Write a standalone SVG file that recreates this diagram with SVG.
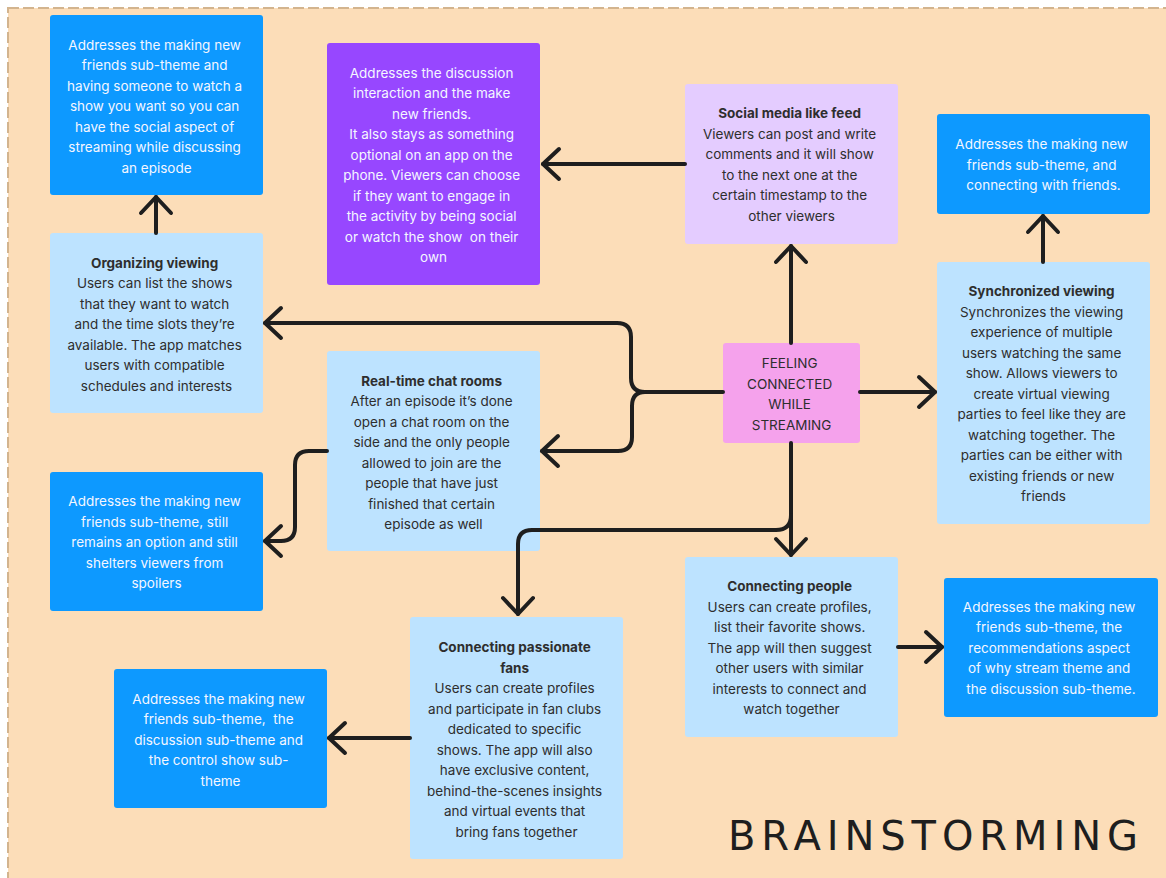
<svg xmlns="http://www.w3.org/2000/svg" width="1166" height="878" viewBox="0 0 1166 878">
<style>
.t{font-family:Inter,"Noto Sans","Liberation Sans",sans-serif;font-size:13.5px;text-anchor:middle}
.w{fill:#F4F6FF}
.d{fill:#2E2E2E}
.b{font-weight:700}
.blue{fill:#0D99FF}
.lb{fill:#BDE3FF}
.c{fill:none;stroke:#1E1E1E;stroke-width:4;stroke-linecap:round;stroke-linejoin:round}
</style>
<defs>
<marker id="arr" viewBox="-22 -20 26 40" refX="0" refY="0" markerWidth="26" markerHeight="40" markerUnits="userSpaceOnUse" orient="auto">
<path d="M-16 -15 L0 0 L-16 15" fill="none" stroke="#1E1E1E" stroke-width="4" stroke-linecap="round" stroke-linejoin="round"/>
</marker>
</defs>
<rect x="0" y="0" width="1166" height="878" fill="#FFFFFF"/>
<rect x="8" y="8" width="1175" height="890" fill="#FCDDB8" stroke="#D3B48E" stroke-width="2" stroke-dasharray="11 4"/>

<g id="n-tl">
<rect class="blue" x="50" y="15" width="213" height="180" rx="3"/>
<text class="t w" x="156.5" y="49.5">
<tspan x="156.5" dy="0">Addresses the making new</tspan>
<tspan x="156.5" dy="20.5">friends sub-theme and</tspan>
<tspan x="156.5" dy="20.5">having someone to watch a</tspan>
<tspan x="156.5" dy="20.5">show you want so you can</tspan>
<tspan x="156.5" dy="20.5">have the social aspect of</tspan>
<tspan x="156.5" dy="20.5">streaming while discussing</tspan>
<tspan x="156.5" dy="20.5">an episode</tspan>
</text>
</g>

<g id="n-purple">
<rect fill="#9747FF" x="327" y="43" width="213" height="242" rx="3"/>
<text class="t w" x="433.5" y="77.5">
<tspan x="433.5" dy="0">Addresses the discussion</tspan>
<tspan x="433.5" dy="20.5">interaction and the make</tspan>
<tspan x="433.5" dy="20.5">new friends.</tspan>
<tspan x="433.5" dy="20.5">It also stays as something</tspan>
<tspan x="433.5" dy="20.5">optional on an app on the</tspan>
<tspan x="433.5" dy="20.5">phone. Viewers can choose</tspan>
<tspan x="433.5" dy="20.5">if they want to engage in</tspan>
<tspan x="433.5" dy="20.5">the activity by being social</tspan>
<tspan x="433.5" dy="20.5" xml:space="preserve">or watch the show  on their</tspan>
<tspan x="433.5" dy="20.5">own</tspan>
</text>
</g>

<g id="n-social">
<rect fill="#E4CCFF" x="685" y="84" width="213" height="160" rx="3"/>
<text class="t d" x="791.5" y="118">
<tspan class="b" x="791.5" dy="0">Social media like feed</tspan>
<tspan x="791.5" dy="20.5">Viewers can post and write</tspan>
<tspan x="791.5" dy="20.5">comments and it will show</tspan>
<tspan x="791.5" dy="20.5">to the next one at the</tspan>
<tspan x="791.5" dy="20.5">certain timestamp to the</tspan>
<tspan x="791.5" dy="20.5">other viewers</tspan>
</text>
</g>

<g id="n-tr">
<rect class="blue" x="937" y="114" width="213" height="100" rx="3"/>
<text class="t w" x="1043.5" y="149">
<tspan x="1043.5" dy="0">Addresses the making new</tspan>
<tspan x="1043.5" dy="20.5">friends sub-theme, and</tspan>
<tspan x="1043.5" dy="20.5">connecting with friends.</tspan>
</text>
</g>

<g id="n-sync">
<rect class="lb" x="937" y="262" width="213" height="262" rx="3"/>
<text class="t d" x="1043.5" y="296">
<tspan class="b" x="1043.5" dy="0">Synchronized viewing</tspan>
<tspan x="1043.5" dy="20.5">Synchronizes the viewing</tspan>
<tspan x="1043.5" dy="20.5">experience of multiple</tspan>
<tspan x="1043.5" dy="20.5">users watching the same</tspan>
<tspan x="1043.5" dy="20.5">show. Allows viewers to</tspan>
<tspan x="1043.5" dy="20.5">create virtual viewing</tspan>
<tspan x="1043.5" dy="20.5">parties to feel like they are</tspan>
<tspan x="1043.5" dy="20.5">watching together. The</tspan>
<tspan x="1043.5" dy="20.5">parties can be either with</tspan>
<tspan x="1043.5" dy="20.5">existing friends or new</tspan>
<tspan x="1043.5" dy="20.5">friends</tspan>
</text>
</g>

<g id="n-organizing">
<rect class="lb" x="50" y="233" width="213" height="180" rx="3"/>
<text class="t d" x="156.5" y="267.5">
<tspan class="b" x="156.5" dy="0">Organizing viewing</tspan>
<tspan x="156.5" dy="20.5">Users can list the shows</tspan>
<tspan x="156.5" dy="20.5">that they want to watch</tspan>
<tspan x="156.5" dy="20.5">and the time slots they’re</tspan>
<tspan x="156.5" dy="20.5">available. The app matches</tspan>
<tspan x="156.5" dy="20.5">users with compatible</tspan>
<tspan x="156.5" dy="20.5">schedules and interests</tspan>
</text>
</g>

<g id="n-lm">
<rect class="blue" x="50" y="472" width="213" height="139" rx="3"/>
<text class="t w" x="156.5" y="506">
<tspan x="156.5" dy="0">Addresses the making new</tspan>
<tspan x="156.5" dy="20.5">friends sub-theme, still</tspan>
<tspan x="156.5" dy="20.5">remains an option and still</tspan>
<tspan x="156.5" dy="20.5">shelters viewers from</tspan>
<tspan x="156.5" dy="20.5">spoilers</tspan>
</text>
</g>

<g id="n-chat">
<rect class="lb" x="327" y="351" width="213" height="200" rx="3"/>
<text class="t d" x="433.5" y="385.5">
<tspan class="b" x="433.5" dy="0">Real-time chat rooms</tspan>
<tspan x="433.5" dy="20.5">After an episode it’s done</tspan>
<tspan x="433.5" dy="20.5">open a chat room on the</tspan>
<tspan x="433.5" dy="20.5">side and the only people</tspan>
<tspan x="433.5" dy="20.5">allowed to join are the</tspan>
<tspan x="433.5" dy="20.5">people that have just</tspan>
<tspan x="433.5" dy="20.5">finished that certain</tspan>
<tspan x="433.5" dy="20.5">episode as well</tspan>
</text>
</g>

<g id="n-center">
<rect fill="#F5A2EC" x="723" y="343" width="137" height="100" rx="3"/>
<text class="t d" x="791.5" y="368">
<tspan x="791.5" dy="0">FEELING</tspan>
<tspan x="791.5" dy="20.5">CONNECTED</tspan>
<tspan x="791.5" dy="20.5">WHILE</tspan>
<tspan x="791.5" dy="20.5">STREAMING</tspan>
</text>
</g>

<g id="n-people">
<rect class="lb" x="685" y="557" width="213" height="180" rx="3"/>
<text class="t d" x="791.5" y="591">
<tspan class="b" x="791.5" dy="0">Connecting people</tspan>
<tspan x="791.5" dy="20.5">Users can create profiles,</tspan>
<tspan x="791.5" dy="20.5">list their favorite shows.</tspan>
<tspan x="791.5" dy="20.5">The app will then suggest</tspan>
<tspan x="791.5" dy="20.5">other users with similar</tspan>
<tspan x="791.5" dy="20.5">interests to connect and</tspan>
<tspan x="791.5" dy="20.5">watch together</tspan>
</text>
</g>

<g id="n-br">
<rect class="blue" x="944" y="578" width="214" height="139" rx="3"/>
<text class="t w" x="1051" y="611.5">
<tspan x="1051" dy="0">Addresses the making new</tspan>
<tspan x="1051" dy="20.5">friends sub-theme, the</tspan>
<tspan x="1051" dy="20.5">recommendations aspect</tspan>
<tspan x="1051" dy="20.5">of why stream theme and</tspan>
<tspan x="1051" dy="20.5">the discussion sub-theme.</tspan>
</text>
</g>

<g id="n-fans">
<rect class="lb" x="410" y="617" width="213" height="242" rx="3"/>
<text class="t d" x="516.5" y="652">
<tspan class="b" x="516.5" dy="0">Connecting passionate</tspan>
<tspan class="b" x="516.5" dy="20.5">fans</tspan>
<tspan x="516.5" dy="20.5">Users can create profiles</tspan>
<tspan x="516.5" dy="20.5">and participate in fan clubs</tspan>
<tspan x="516.5" dy="20.5">dedicated to specific</tspan>
<tspan x="516.5" dy="20.5">shows. The app will also</tspan>
<tspan x="516.5" dy="20.5">have exclusive content,</tspan>
<tspan x="516.5" dy="20.5">behind-the-scenes insights</tspan>
<tspan x="516.5" dy="20.5">and virtual events that</tspan>
<tspan x="516.5" dy="20.5">bring fans together</tspan>
</text>
</g>

<g id="n-bl">
<rect class="blue" x="114" y="669" width="213" height="139" rx="3"/>
<text class="t w" x="220.5" y="703.5">
<tspan x="220.5" dy="0">Addresses the making new</tspan>
<tspan x="220.5" dy="20.5" xml:space="preserve">friends sub-theme,  the</tspan>
<tspan x="220.5" dy="20.5">discussion sub-theme and</tspan>
<tspan x="220.5" dy="20.5">the control show sub-</tspan>
<tspan x="220.5" dy="20.5">theme</tspan>
</text>
</g>

<g id="connectors">
<path class="c" marker-end="url(#arr)" d="M156 233 V197"/>
<path class="c" marker-end="url(#arr)" d="M685 164 H543"/>
<path class="c" marker-end="url(#arr)" d="M791 343 V246"/>
<path class="c" marker-end="url(#arr)" d="M1043 262 V216"/>
<path class="c" marker-end="url(#arr)" d="M860 392 H935"/>
<path class="c" marker-end="url(#arr)" d="M723 392 H645 Q631 392 631 378 V337 Q631 323 617 323 H265"/>
<path class="c" marker-end="url(#arr)" d="M645 392 Q632 392 632 406 V437 Q632 451 618 451 H542"/>
<path class="c" marker-end="url(#arr)" d="M327 451 H309 Q295 451 295 465 V527 Q295 541 281 541 H265"/>
<path class="c" marker-end="url(#arr)" d="M791 443 V555"/>
<path class="c" marker-end="url(#arr)" d="M791 515 Q791 530 776 530 H532 Q518 530 518 544 V614"/>
<path class="c" marker-end="url(#arr)" d="M898 647 H942"/>
<path class="c" marker-end="url(#arr)" d="M410 738 H329"/>
</g>

<g id="title">
<text x="728" y="850" font-family="'DejaVu Sans','Liberation Sans',sans-serif" font-size="40" fill="#1E1E1E" textLength="410" lengthAdjust="spacing">BRAINSTORMING</text>
</g>
</svg>
